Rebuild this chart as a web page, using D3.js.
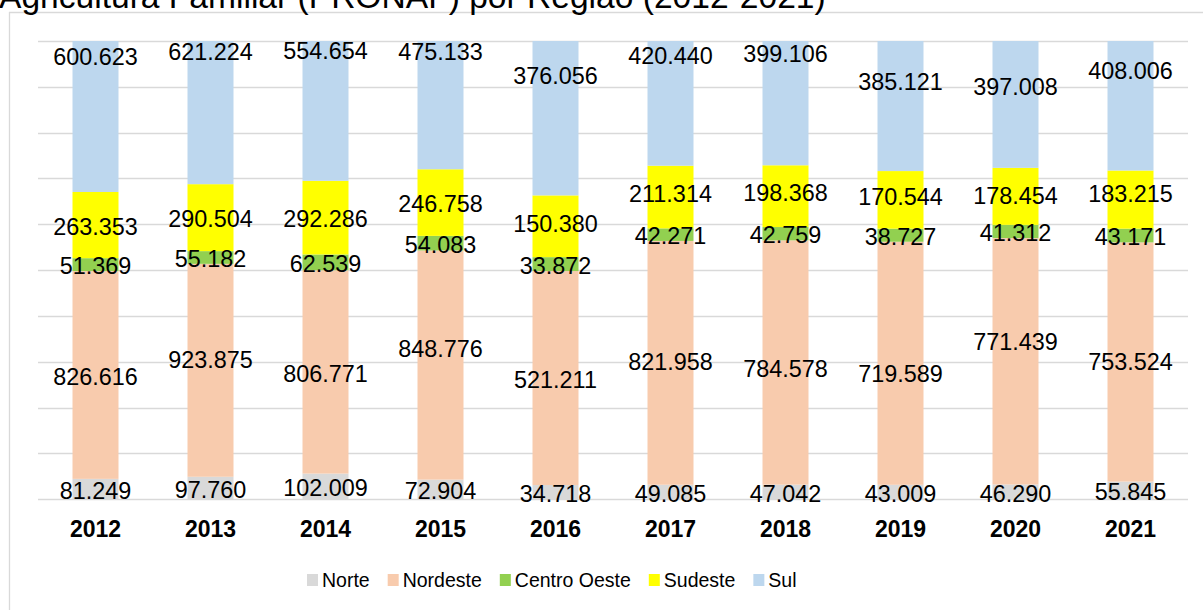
<!DOCTYPE html>
<html>
<head>
<meta charset="utf-8">
<script src="https://cdn.jsdelivr.net/npm/d3@7"></script>
<style>
  html, body { margin: 0; padding: 0; background: #fff; }
  svg { display: block; font-family: "Liberation Sans", Arial, sans-serif; }
</style>
</head>
<body>
<svg id="chart" width="1203" height="610"></svg>
<script>
// Agricultura familiar (PRONAF) por região, 100% stacked columns
const years = ["2012", "2013", "2014", "2015", "2016", "2017", "2018", "2019", "2020", "2021"];
const regions = ["Norte", "Nordeste", "Centro Oeste", "Sudeste", "Sul"];

const norte       = [81249, 97760, 102009, 72904, 34718, 49085, 47042, 43009, 46290, 55845];
const nordeste    = [826616, 923875, 806771, 848776, 521211, 821958, 784578, 719589, 771439, 753524];
const centroOeste = [51369, 55182, 62539, 54083, 33872, 42271, 42759, 38727, 41312, 43171];
const sudeste     = [263353, 290504, 292286, 246758, 150380, 211314, 198368, 170544, 178454, 183215];
const sul         = [600623, 621224, 554654, 475133, 376056, 420440, 399106, 385121, 397008, 408006];

const title = "Agricultura Familiar (PRONAF) por Região (2012-2021)";

// labels in the original were dragged by hand; vertical nudge in px from the segment centre
const labelNudge = {
  "Nordeste": [0, -12, 0, -18, 0, -2, 5, 9, -21, -2],
  "Sudeste":  [0, 0, 0, 0, -4, -5, -5, -4, -2, -7],
  "Sul":      [-61, -62, -62, -55, -44, -49, -51, -26, -19, -36],
};

const C = {
  "Norte": "#d9d9d9",
  "Nordeste": "#f8cbad",
  "Centro Oeste": "#92d050",
  "Sudeste": "#ffff00",
  "Sul": "#bdd7ee",
  grid: "#d9d9d9",
  border: "#d9d9d9",
  ink: "#000",
};

const seriesValues = [norte, nordeste, centroOeste, sudeste, sul];
const rows = years.map((yr, i) => {
  const r = { year: yr };
  regions.forEach((name, k) => { r[name] = seriesValues[k][i]; });
  return r;
});

const fmt = d3.formatLocale({ decimal: ",", thousands: ".", grouping: [3], currency: ["R$", ""] }).format(",d");

const W = 1203, H = 610;
const M = { top: 41, right: 15, bottom: 110.7, left: 38 };
const svg = d3.select("#chart");

// chart frame (runs off the right and bottom edge in the source)
svg.append("line").attr("x1", 9.5).attr("x2", 9.5).attr("y1", 12).attr("y2", H)
  .attr("stroke", C.border).attr("stroke-width", 1.3);
svg.append("line").attr("x1", 9).attr("x2", W).attr("y1", 12.5).attr("y2", 12.5)
  .attr("stroke", C.border).attr("stroke-width", 1.3);

svg.append("text").attr("x", -1).attr("y", 8)
  .attr("font-size", 33.6).attr("fill", C.ink).text(title);

const x = d3.scaleBand().domain(years)
  .range([M.left, W - M.right]).paddingInner(0.6).paddingOuter(0.3);
const y = d3.scaleLinear().domain([0, 1]).range([H - M.bottom, M.top]);

svg.append("g").selectAll("line").data(d3.range(0, 1.0001, 0.1)).join("line")
  .attr("x1", M.left).attr("x2", W - M.right)
  .attr("y1", d => Math.round(y(d)) + 0.5).attr("y2", d => Math.round(y(d)) + 0.5)
  .attr("stroke", C.grid).attr("stroke-width", 1.4);

const stacked = d3.stack().keys(regions).offset(d3.stackOffsetExpand)(rows);

const layers = svg.append("g").selectAll("g").data(stacked).join("g")
  .attr("fill", d => C[d.key]);
layers.selectAll("rect").data(d => d).join("rect")
  .attr("x", d => x(d.data.year)).attr("width", x.bandwidth())
  .attr("y", d => y(d[1])).attr("height", d => y(d[0]) - y(d[1]));

const labels = svg.append("g").attr("font-size", 23.4).attr("fill", C.ink).attr("text-anchor", "middle");
stacked.forEach(layer => {
  const nudge = labelNudge[layer.key] || [];
  labels.selectAll(null).data(layer).join("text")
    .attr("x", d => x(d.data.year) + x.bandwidth() / 2)
    .attr("y", (d, i) => (y(d[0]) + y(d[1])) / 2 + 9.6 + (nudge[i] || 0))
    .text(d => fmt(d.data[layer.key]));
});

svg.append("g").selectAll("text").data(years).join("text")
  .attr("x", d => x(d) + x.bandwidth() / 2).attr("y", 537)
  .attr("text-anchor", "middle").attr("font-size", 23).attr("font-weight", "bold")
  .attr("fill", C.ink).text(d => d);

// legend
const legend = svg.append("g");
let lx = 307;
regions.forEach(name => {
  legend.append("rect").attr("x", lx).attr("y", 574).attr("width", 11).attr("height", 12)
    .attr("fill", C[name]);
  const t = legend.append("text").attr("x", lx + 15).attr("y", 587)
    .attr("font-size", 19.5).attr("fill", C.ink).text(name);
  lx += 15 + t.node().getComputedTextLength() + 18;
});
</script>
</body>
</html>
